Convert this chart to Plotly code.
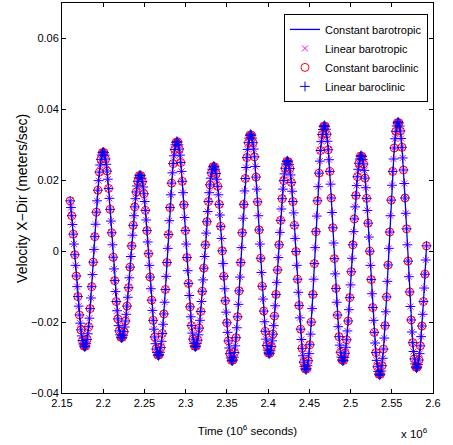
import numpy as np
import plotly.graph_objects as go

# ---------------- data (velocity in m/s, time in seconds) ----------------
t_start = 2159945.5   # time of first sample (s)
dt = 931.5            # sampling interval (s)

velocity = [
    0.0142, 0.0123, 0.0100, 0.0075, 0.0048, 0.0020, -0.0010, -0.0040, -0.0070, -0.0100,
    -0.0128, -0.0155, -0.0180, -0.0203, -0.0222, -0.0239, -0.0252, -0.0262, -0.0268, -0.0270,
    -0.0268, -0.0261, -0.0249, -0.0233, -0.0213, -0.0189, -0.0162, -0.0132, -0.0100, -0.0066, -0.0031, 0.0005,
    0.0041, 0.0076, 0.0110, 0.0142, 0.0172, 0.0199, 0.0223, 0.0243, 0.0259, 0.0271, 0.0278, 0.0280,
    0.0278, 0.0271, 0.0260, 0.0245, 0.0226, 0.0203, 0.0177, 0.0149, 0.0118, 0.0085, 0.0052, 0.0018,
    -0.0017, -0.0050, -0.0083, -0.0114, -0.0142, -0.0168, -0.0191, -0.0210, -0.0225, -0.0236, -0.0243, -0.0245,
    -0.0243, -0.0237, -0.0227, -0.0214, -0.0197, -0.0178, -0.0155, -0.0130, -0.0103, -0.0075, -0.0045, -0.0015,
    0.0015, 0.0045, 0.0073, 0.0100, 0.0125, 0.0148, 0.0167, 0.0184, 0.0197, 0.0207, 0.0213, 0.0215,
    0.0213, 0.0206, 0.0196, 0.0181, 0.0162, 0.0140, 0.0115, 0.0088, 0.0058, 0.0026, -0.0007, -0.0040,
    -0.0073, -0.0106, -0.0138, -0.0167, -0.0195, -0.0220, -0.0242, -0.0261, -0.0276, -0.0286, -0.0293, -0.0295,
    -0.0292, -0.0285, -0.0272, -0.0254, -0.0232, -0.0206, -0.0177, -0.0144, -0.0108, -0.0071, -0.0032, 0.0008,
    0.0047, 0.0086, 0.0123, 0.0159, 0.0192, 0.0221, 0.0247, 0.0269, 0.0287, 0.0300, 0.0307, 0.0310,
    0.0308, 0.0300, 0.0288, 0.0271, 0.0250, 0.0225, 0.0197, 0.0165, 0.0131, 0.0095, 0.0058, 0.0020,
    -0.0018, -0.0055, -0.0091, -0.0125, -0.0157, -0.0185, -0.0210, -0.0231, -0.0248, -0.0260, -0.0268, -0.0270,
    -0.0268, -0.0261, -0.0251, -0.0236, -0.0217, -0.0195, -0.0170, -0.0142, -0.0113, -0.0081, -0.0048, -0.0015,
    0.0018, 0.0051, 0.0083, 0.0112, 0.0140, 0.0165, 0.0187, 0.0206, 0.0221, 0.0231, 0.0238, 0.0240,
    0.0238, 0.0231, 0.0219, 0.0203, 0.0183, 0.0159, 0.0132, 0.0102, 0.0070, 0.0036, 0.0001, -0.0035,
    -0.0071, -0.0106, -0.0140, -0.0172, -0.0202, -0.0229, -0.0253, -0.0273, -0.0289, -0.0301, -0.0308, -0.0310,
    -0.0307, -0.0299, -0.0286, -0.0267, -0.0244, -0.0216, -0.0185, -0.0150, -0.0112, -0.0073, -0.0032, 0.0010,
    0.0052, 0.0093, 0.0132, 0.0170, 0.0205, 0.0236, 0.0264, 0.0287, 0.0306, 0.0319, 0.0327, 0.0330,
    0.0327, 0.0319, 0.0306, 0.0288, 0.0266, 0.0239, 0.0209, 0.0175, 0.0139, 0.0100, 0.0060, 0.0020,
    -0.0020, -0.0060, -0.0099, -0.0135, -0.0169, -0.0199, -0.0226, -0.0248, -0.0266, -0.0279, -0.0287, -0.0290,
    -0.0288, -0.0281, -0.0269, -0.0253, -0.0234, -0.0210, -0.0183, -0.0154, -0.0122, -0.0088, -0.0053, -0.0018,
    0.0018, 0.0053, 0.0087, 0.0119, 0.0148, 0.0175, 0.0199, 0.0218, 0.0234, 0.0246, 0.0253, 0.0255,
    0.0252, 0.0245, 0.0233, 0.0215, 0.0194, 0.0169, 0.0140, 0.0108, 0.0073, 0.0036, -0.0001, -0.0040,
    -0.0079, -0.0116, -0.0153, -0.0188, -0.0220, -0.0249, -0.0274, -0.0295, -0.0313, -0.0325, -0.0332, -0.0335,
    -0.0332, -0.0323, -0.0309, -0.0289, -0.0264, -0.0234, -0.0200, -0.0162, -0.0122, -0.0079, -0.0035, 0.0010,
    0.0055, 0.0099, 0.0142, 0.0182, 0.0220, 0.0254, 0.0284, 0.0309, 0.0329, 0.0343, 0.0352, 0.0355,
    0.0352, 0.0344, 0.0330, 0.0310, 0.0286, 0.0258, 0.0225, 0.0189, 0.0150, 0.0109, 0.0066, 0.0023,
    -0.0021, -0.0064, -0.0105, -0.0144, -0.0180, -0.0213, -0.0241, -0.0265, -0.0285, -0.0299, -0.0307, -0.0310,
    -0.0308, -0.0300, -0.0288, -0.0271, -0.0250, -0.0225, -0.0197, -0.0165, -0.0131, -0.0095, -0.0058, -0.0020,
    0.0018, 0.0055, 0.0091, 0.0125, 0.0157, 0.0185, 0.0210, 0.0231, 0.0248, 0.0260, 0.0268, 0.0270,
    0.0267, 0.0259, 0.0246, 0.0228, 0.0206, 0.0179, 0.0149, 0.0115, 0.0079, 0.0040, 0.0000, -0.0040,
    -0.0080, -0.0120, -0.0159, -0.0195, -0.0229, -0.0259, -0.0286, -0.0308, -0.0326, -0.0339, -0.0347, -0.0350,
    -0.0347, -0.0338, -0.0323, -0.0302, -0.0276, -0.0245, -0.0210, -0.0171, -0.0129, -0.0085, -0.0039, 0.0008,
    0.0054, 0.0100, 0.0144, 0.0186, 0.0225, 0.0260, 0.0291, 0.0317, 0.0338, 0.0353, 0.0362, 0.0365,
    0.0362, 0.0353, 0.0339, 0.0318, 0.0293, 0.0263, 0.0229, 0.0191, 0.0150, 0.0107, 0.0063, 0.0018,
    -0.0028, -0.0072, -0.0115, -0.0156, -0.0194, -0.0228, -0.0258, -0.0283, -0.0304, -0.0318, -0.0327, -0.0330,
    -0.0327, -0.0320, -0.0307, -0.0289, -0.0267, -0.0241, -0.0211, -0.0178, -0.0142, -0.0104, -0.0065, -0.0025,
    0.0015,
]

time_s = t_start + dt * np.arange(len(velocity))

series_names = ["Constant barotropic", "Linear barotropic",
                "Constant baroclinic", "Linear baroclinic"]

v_constant_barotropic = velocity
v_linear_barotropic = velocity
v_linear_baroclinic = velocity
# constant baroclinic output is stored at every second time step
t_constant_baroclinic = time_s[::2]
v_constant_baroclinic = velocity[::2]

x_tickvals = [2.15e6, 2.2e6, 2.25e6, 2.3e6, 2.35e6, 2.4e6, 2.45e6, 2.5e6, 2.55e6, 2.6e6]
x_ticktext = ["2.15", "2.2", "2.25", "2.3", "2.35", "2.4", "2.45", "2.5", "2.55", "2.6"]
y_tickvals = [-0.04, -0.02, 0, 0.02, 0.04, 0.06]
y_ticktext = ["\u22120.04", "\u22120.02", "0", "0.02", "0.04", "0.06"]

FONT = "Liberation Sans, Arial, Helvetica, sans-serif"

fig = go.Figure()
fig.add_trace(go.Scatter(
    x=time_s, y=v_constant_barotropic, mode="lines", name=series_names[0],
    line=dict(color="#0000FF", width=1.3)))
fig.add_trace(go.Scatter(
    x=time_s, y=v_linear_barotropic, mode="markers", name=series_names[1],
    marker=dict(symbol="x-thin", size=6, color="#FF00FF",
                line=dict(color="#FF00FF", width=1))))
fig.add_trace(go.Scatter(
    x=t_constant_baroclinic, y=v_constant_baroclinic, mode="markers", name=series_names[2],
    marker=dict(symbol="circle-open", size=8, color="#FF0000",
                line=dict(color="#FF0000", width=1))))
fig.add_trace(go.Scatter(
    x=time_s, y=v_linear_baroclinic, mode="markers", name=series_names[3],
    marker=dict(symbol="cross-thin", size=7, color="#0000FF",
                line=dict(color="#0000FF", width=1))))

axis_common = dict(
    showline=True, linecolor="black", linewidth=1, mirror="allticks",
    ticks="inside", ticklen=4, tickcolor="black", showgrid=False, zeroline=False,
    tickfont=dict(family=FONT, size=11, color="black"),
)

fig.update_layout(
    width=453, height=445,
    margin=dict(l=62, r=20, t=3, b=52),
    paper_bgcolor="white", plot_bgcolor="white",
    font=dict(family=FONT, size=11, color="black"),
    showlegend=True,
    legend=dict(x=0.9865, y=0.972, xanchor="right", yanchor="top",
                bordercolor="black", borderwidth=1, bgcolor="white",
                font=dict(family=FONT, size=11, color="black"),
                tracegroupgap=0, itemwidth=30),
    xaxis=dict(range=[2.15e6, 2.6e6], tickvals=x_tickvals, ticktext=x_ticktext,
               title=dict(text="Time (10<sup>6</sup> seconds)", standoff=18,
                          font=dict(family=FONT, size=11.5, color="black")),
               **axis_common),
    yaxis=dict(range=[-0.04, 0.07], tickvals=y_tickvals, ticktext=y_ticktext,
               **axis_common),
    annotations=[
        dict(text="Velocity X\u2212Dir (meters/sec)", xref="paper", yref="paper",
             x=-0.108, y=0.5, xanchor="center", yanchor="middle", textangle=-90,
             showarrow=False, font=dict(family=FONT, size=14, color="black")),
        dict(text="x 10<sup>6</sup>", xref="paper", yref="paper",
             x=0.992, y=-0.1026, xanchor="right", yanchor="middle",
             showarrow=False, font=dict(family=FONT, size=11.5, color="black")),
    ],
)

fig.write_html("out.html")
